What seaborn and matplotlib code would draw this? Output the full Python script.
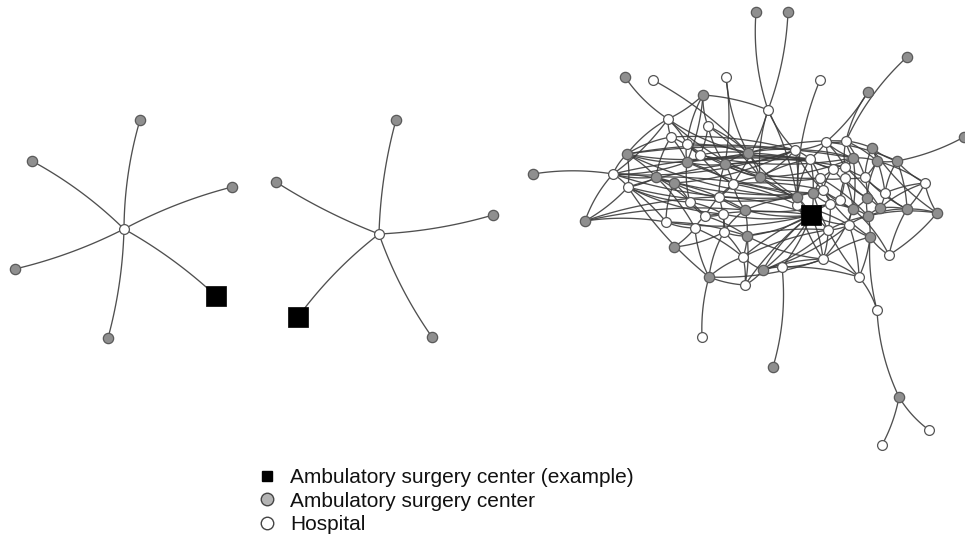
import numpy as np
import pandas as pd
import matplotlib
matplotlib.use("Agg")
import matplotlib.pyplot as plt
import seaborn as sns
from matplotlib.lines import Line2D
from matplotlib.collections import LineCollection

sns.set_theme(style="white")
plt.rcParams["font.family"] = ["Liberation Sans", "DejaVu Sans"]

# ---------------- data ----------------
# Network 1 (star)
n1_names = ["n1c", "n1a", "n1b", "n1d", "n1e", "n1f", "n1s"]
n1_x = [124, 140, 32, 232, 15, 108, 216]
n1_y = [229, 120, 161, 187, 269, 338, 296]
n1_kind = ["Hospital", "ASC", "ASC", "ASC", "ASC", "ASC", "EX"]
n1_edges = [("n1c", "n1a"), ("n1c", "n1b"), ("n1c", "n1d"), ("n1c", "n1e"), ("n1c", "n1f"), ("n1c", "n1s")]
n1_curv = [-0.07, 0.07, -0.06, -0.06, -0.06, -0.06]

# Network 2 (star)
n2_names = ["n2c", "n2a", "n2b", "n2d", "n2e", "n2s"]
n2_x = [379, 396, 276, 493, 432, 298]
n2_y = [234, 120, 182, 215, 337, 317]
n2_kind = ["Hospital", "ASC", "ASC", "ASC", "ASC", "EX"]
n2_edges = [("n2c", "n2a"), ("n2c", "n2b"), ("n2c", "n2d"), ("n2c", "n2e"), ("n2c", "n2s")]
n2_curv = [-0.06, -0.05, 0.06, 0.07, 0.07]

# Network 3 (large) - ambulatory surgery centers
asc_x = [756, 788, 907, 625, 703, 868, 964, 627, 533, 748, 687, 725, 656, 674, 760, 872, 897, 877,
         853, 585, 797, 813, 853, 867, 880, 907, 937, 868, 745, 747, 870, 674, 763, 709, 773, 899]
asc_y = [12, 12, 57, 77, 95, 92, 137, 154, 174, 153, 162, 164, 177, 183, 177, 148, 161, 161,
         158, 221, 197, 193, 209, 198, 208, 209, 213, 216, 210, 236, 237, 247, 270, 277, 367, 397]
# hospitals
hosp_x = [653, 726, 820, 768, 668, 708, 671, 687, 700, 795, 826, 846, 613, 628, 733, 690, 705, 719,
          724, 666, 695, 743, 782, 745, 823, 828, 849, 889, 859, 877, 925, 702, 882, 929, 810, 833,
          845, 820, 845, 865, 885, 823, 830, 840, 723, 797]
hosp_y = [80, 77, 80, 110, 119, 126, 137, 144, 155, 150, 142, 141, 174, 187, 184, 202, 216, 197,
          232, 222, 228, 257, 267, 285, 259, 230, 225, 255, 277, 310, 183, 337, 445, 430, 159, 169,
          167, 178, 178, 177, 193, 190, 204, 200, 214, 205]
# example ambulatory surgery center
ex_x = [811]
ex_y = [215]

big_edges_txt = """
a0-h3 a1-h3 a2-h11 a5-h10 a5-h11 a6-a16 a3-h4 h0-a9 h1-a9 h1-a11 h2-a20 a8-h12 a34-h22 h31-a33
h29-h28 h29-a30 h29-a35 a35-h32 a35-h33
a4-h4 a4-h5 a4-h3 a4-h7 a4-a10 h4-h6 h4-h7 h4-a9 h4-h12 h4-a7 h5-h8 h5-a11 h5-a9 h6-a7 h6-h8
h6-a12 h6-a10 h7-a10 h7-a9 h7-h8 h8-a11 h8-h14 h8-a9 a7-h12 a7-h13 a7-a10 a7-a12 a7-a9 h12-a13
h12-a12 h12-h13 h12-a10 h13-a19 h12-a19 a19-h19 h13-a12 h13-h19 h13-h15 a12-h16 a12-a13 a12-h20
a13-h19 a13-h15 a13-h17 a13-a28 a10-h15 a10-h14 a10-a11 a11-h14 a11-h17 a11-a9 a11-a14 a9-a14
a9-h34 a9-h9 h14-h16 h14-h17 h14-a28 h14-a14 h15-h16 h15-h44 h16-h20 h16-a29 h16-h44 h17-h18
h17-a28 h44-h18 h19-h20 h19-a29 h19-ex0 h20-a31 h20-a33 h20-h21 h18-a29 h18-h21 h18-a33 a28-a29
a28-h18 a29-h21 a29-ex0 a29-h23 h21-a32 h21-h23 h21-a33 h23-a33 h23-a32 a32-h22 a32-ex0 a33-h13
h3-h9 h3-h14 h3-a14 h3-a20
a14-h9 a14-h34 a14-a20 a14-ex0 a9-a20 a28-a20 a28-ex0 h14-h45 a11-h9 h17-ex0 a14-h37 a9-h35
h8-a18 a7-h9 h12-a20 h13-h34 a10-a21 a7-a18 h12-h9 a19-a28 h13-a20 a10-h36 a12-a21
h9-h34 h9-h10 h9-a20 h9-h41 h9-a18 h10-h11 h10-h34 h10-h35 h10-h36 h10-a18 h11-a15 h11-h36
h11-a17 h11-a18 h11-h39 a15-a16 a15-a17 a15-h39 a15-h40 a16-h30 a16-a17 a16-h40 a16-a25 a17-a18
a17-h39 a17-a23 a18-h36 a18-h38 a18-h35 h34-h35 h34-h37 h34-a20 h34-a21 h35-h36 h35-h37 h35-h41
h36-h38 h36-h39 h37-h41 h37-h38 h37-a21 h38-h39 h38-a22 h38-a23 h39-a23 h39-h40 h40-a24 h40-a25
h40-h30 h30-a26 h30-a25 h30-a24 a20-a21 a20-h45 a20-ex0 a21-h41 a21-ex0 a21-h42 h41-h42 h41-a22
h42-a22 h42-ex0 h42-h25 a22-a23 a22-a27 a22-h26 a23-a24 a23-a27 a24-a25 a24-a27 a25-a26 a25-a27
a27-a30 a27-h26 a26-h27 a26-a27 h45-ex0 h45-h42 ex0-h25 ex0-h26 ex0-h24 ex0-a32 ex0-h22 h25-h26
h25-h24 h26-a30 h26-h28 a30-h27 a30-h28 a30-h24 h24-h28 h24-a22 h27-a25 h27-a22 h25-a27 h22-h24
a32-h24 a32-h25 h21-ex0 a29-h24 h43-h38 h43-a22 h43-h41 h43-h36
h12-h34 a7-a20 a19-h17 h13-h44 a12-a20 a13-h9 h6-h9 h7-a14 h5-a14 h4-a14 a10-h34 a11-h37 a9-h11
a14-a18 h14-h41 a28-h42 h16-ex0 h44-ex0 a29-h25 a33-h24 h21-h25 a31-h18 h23-ex0 a32-h26 h22-h28
a21-h28 h45-h26 h41-a30 h37-a27 a20-h24 a18-a22 h35-a23 h36-a24 h39-a25 a17-h30 a15-a26 h10-a16
"""
big_edges = [tuple(e.split("-")) for e in big_edges_txt.split()]

# ---------------- build tables ----------------
pos = {}
for n, x, y in zip(n1_names, n1_x, n1_y):
    pos[n] = (x, y)
for n, x, y in zip(n2_names, n2_x, n2_y):
    pos[n] = (x, y)
for i, (x, y) in enumerate(zip(asc_x, asc_y)):
    pos[f"a{i}"] = (x, y)
for i, (x, y) in enumerate(zip(hosp_x, hosp_y)):
    pos[f"h{i}"] = (x, y)
for i, (x, y) in enumerate(zip(ex_x, ex_y)):
    pos[f"ex{i}"] = (x, y)

nodes = pd.DataFrame(
    {
        "x": n1_x + n2_x + asc_x + hosp_x + ex_x,
        "y": n1_y + n2_y + asc_y + hosp_y + ex_y,
        "kind": n1_kind + n2_kind + ["ASC"] * len(asc_x) + ["Hospital"] * len(hosp_x) + ["EX"] * len(ex_x),
    }
)

all_edges = list(zip(n1_edges, n1_curv)) + list(zip(n2_edges, n2_curv))
all_edges += [(e, 0.1 if i % 2 == 0 else -0.08) for i, e in enumerate(big_edges)]


def curve(p0, p1, rad, n=24):
    p0 = np.asarray(p0, float)
    p1 = np.asarray(p1, float)
    d = p1 - p0
    normal = np.array([-d[1], d[0]])
    ctrl = (p0 + p1) / 2 + rad * normal
    t = np.linspace(0, 1, n)[:, None]
    return (1 - t) ** 2 * p0 + 2 * (1 - t) * t * ctrl + t ** 2 * p1


segs = [curve(pos[a], pos[b], r) for (a, b), r in all_edges]

# ---------------- draw ----------------
fig = plt.figure(figsize=(9.65, 5.38), dpi=100)
ax = fig.add_axes([0, 0, 1, 1])
ax.set_xlim(0, 965)
ax.set_ylim(538, 0)
ax.axis("off")

lc = LineCollection(segs, colors="#3c3c3c", linewidths=0.95, alpha=0.9, zorder=1)
ax.add_collection(lc)

sns.scatterplot(data=nodes[nodes.kind == "Hospital"], x="x", y="y", ax=ax, marker="o", s=50,
                color="white", edgecolor="#555555", linewidth=0.9, legend=False, zorder=3)
sns.scatterplot(data=nodes[nodes.kind == "ASC"], x="x", y="y", ax=ax, marker="o", s=55,
                color="#8f8f8f", edgecolor="#5a5a5a", linewidth=0.9, legend=False, zorder=3)
sns.scatterplot(data=nodes[nodes.kind == "EX"], x="x", y="y", ax=ax, marker="s", s=200,
                color="black", edgecolor="black", linewidth=0.5, legend=False, zorder=4)
ax.set_xlabel("")
ax.set_ylabel("")

handles = [
    Line2D([], [], linestyle="none", marker="s", markersize=7, markerfacecolor="black", markeredgecolor="black"),
    Line2D([], [], linestyle="none", marker="o", markersize=9, markerfacecolor="#b4b4b4", markeredgecolor="#444444", markeredgewidth=1),
    Line2D([], [], linestyle="none", marker="o", markersize=9, markerfacecolor="white", markeredgecolor="#444444", markeredgewidth=1),
]
labels = ["Ambulatory surgery center (example)", "Ambulatory surgery center", "Hospital"]
leg = fig.legend(handles, labels, loc="upper left", bbox_to_anchor=(257 / 965, 1 - 468 / 538),
                 frameon=False, fontsize=15.0, handlelength=1.0, handletextpad=0.6,
                 labelspacing=0.22, borderpad=0, borderaxespad=0)
for t in leg.get_texts():
    t.set_color("#111111")

fig.savefig("out.png", dpi=100)
